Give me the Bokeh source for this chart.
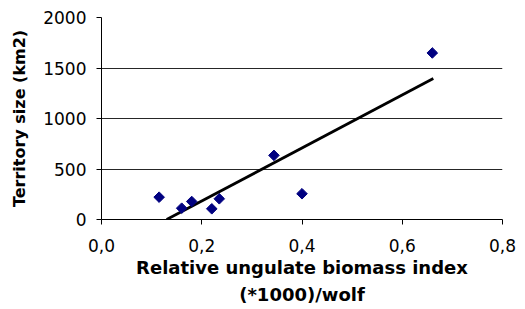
import math
from bokeh.plotting import figure
from bokeh.models import Range1d, FixedTicker
from bokeh.embed import file_html
from bokeh.resources import INLINE

# Data
biomass_index = [0.115, 0.160, 0.180, 0.220, 0.235, 0.344, 0.400, 0.660]
territory_km2 = [221, 112, 178, 106, 205, 635, 255, 1649]

# Linear trend line (end points as drawn in the reference)
trend_x = [0.130, 0.662]
trend_y = [0, 1395]

x_ticks = [0.0, 0.2, 0.4, 0.6, 0.8]
x_tick_labels = ["0,0", "0,2", "0,4", "0,6", "0,8"]
y_ticks = [0, 500, 1000, 1500, 2000]
y_tick_labels = ["0", "500", "1000", "1500", "2000"]

p = figure(width=517, height=309, output_backend="svg", toolbar_location=None,
           x_range=Range1d(0, 0.8), y_range=Range1d(0, 2000),
           min_border_left=101, min_border_right=15, min_border_top=17, min_border_bottom=90)
p.outline_line_color = None
p.background_fill_color = "white"
p.border_fill_color = "white"

p.xgrid.grid_line_color = None
p.ygrid.grid_line_color = "black"
p.ygrid.grid_line_width = 1
p.ygrid.grid_line_alpha = 0.85

p.xaxis.ticker = FixedTicker(ticks=x_ticks)
p.yaxis.ticker = FixedTicker(ticks=y_ticks)
p.xaxis.major_label_overrides = {t: l for t, l in zip(x_ticks, x_tick_labels)}
p.yaxis.major_label_overrides = {t: l for t, l in zip(y_ticks, y_tick_labels)}

for ax in (p.xaxis, p.yaxis):
    ax.axis_line_color = "black"
    ax.axis_line_width = 1
    ax.major_tick_line_color = "black"
    ax.major_tick_out = 5
    ax.major_tick_in = 0
    ax.minor_tick_line_color = None
    ax.major_label_text_font = "DejaVu Sans"
    ax.major_label_text_font_size = "17px"
    ax.major_label_text_color = "black"
    ax.axis_label_text_font = "DejaVu Sans"
    ax.axis_label_text_font_style = "bold"
    ax.axis_label_text_color = "black"

p.yaxis.major_label_standoff = 10
p.xaxis.major_label_standoff = 14

p.xaxis.axis_label = "Relative ungulate biomass index\n(*1000)/wolf"
p.xaxis.axis_label_text_font_size = "18px"
p.xaxis.axis_label_text_line_height = 1.33
p.xaxis.axis_label_standoff = 2

p.yaxis.axis_label = "Territory size (km2)"
p.yaxis.axis_label_text_font_size = "16px"
p.yaxis.axis_label_standoff = 11

p.line(trend_x, trend_y, line_color="black", line_width=2.8)
p.scatter(biomass_index, territory_km2, marker="square", angle=math.pi / 4,
          size=7.5, fill_color="#000080", line_color="#000080")

open("out.html", "w").write(file_html(p, INLINE))
